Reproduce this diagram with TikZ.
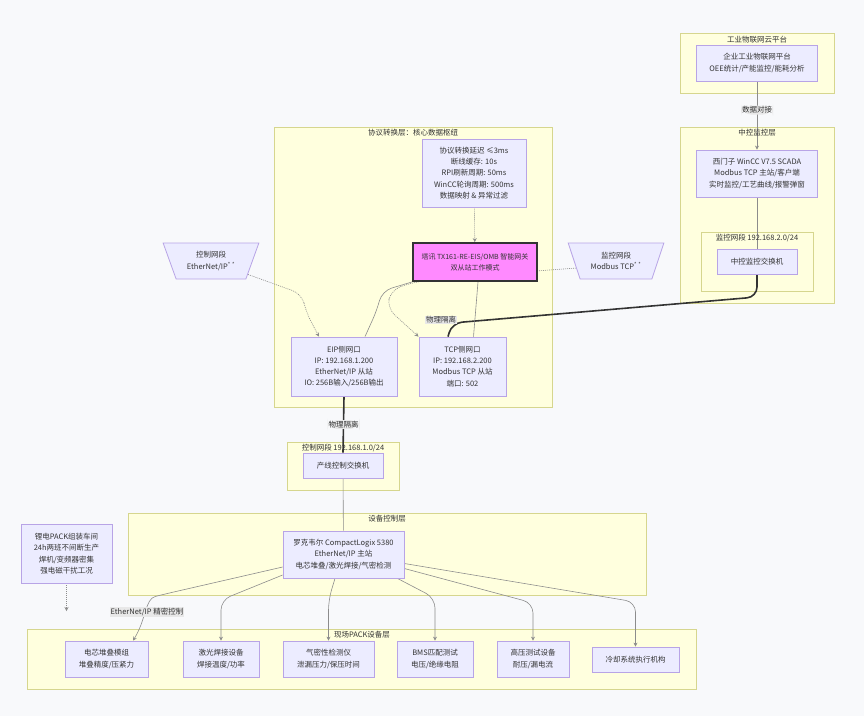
\documentclass[tikz,border=0pt]{standalone}
\usepackage{fontspec}
\setmainfont{Noto Sans CJK SC}
\usetikzlibrary{arrows.meta, positioning, shapes.geometric}
\definecolor{pagebg}{HTML}{F8F9FB}
\definecolor{grpfill}{HTML}{FFFFDE}
\definecolor{grpline}{HTML}{D6D68E}
\definecolor{boxfill}{HTML}{ECECFF}
\definecolor{boxline}{HTML}{B8A4E6}
\definecolor{gwfill}{HTML}{FF8AFF}
\definecolor{inkgray}{HTML}{333333}
\definecolor{linkgray}{HTML}{8C8C8C}
\definecolor{lblfill}{HTML}{E8E8E8}

\pgfdeclarelayer{groups}
\pgfdeclarelayer{links}
\pgfsetlayers{groups,links,main}

\begin{document}
\begin{tikzpicture}[
  x=1pt, y=-1pt,
  font=\fontsize{7.5}{11.3}\selectfont, text=inkgray,
  devbox/.style={rectangle, draw=boxline, fill=boxfill, line width=0.8pt, align=center, inner sep=2pt},
  gwbox/.style={rectangle, draw=inkgray, fill=gwfill, line width=1.8pt, align=center, inner sep=1pt, font=\fontsize{7}{11.3}\selectfont},
  segbox/.style={trapezium, trapezium stretches=true, trapezium left angle=66, trapezium right angle=66, shape border rotate=180, draw=boxline, fill=boxfill, line width=0.8pt, align=center, inner sep=1pt, minimum width=96pt, minimum height=36pt},
  grpbox/.style={draw=grpline, fill=grpfill, line width=0.8pt},
  grptitle/.style={inner sep=1pt},
  link/.style={draw=linkgray, line width=0.6pt, rounded corners=10pt},
  arr/.style={link, -{Stealth[length=4pt, width=4pt]}},
  dotlink/.style={link, dash pattern=on 1pt off 1pt, -{Stealth[length=4pt, width=4pt]}},
  thicklink/.style={draw=inkgray, line width=1.6pt, rounded corners=10pt},
  elabel/.style={fill=lblfill, inner sep=1pt}
]
\useasboundingbox (0,0) rectangle (864,716);

% groups
\begin{pgfonlayer}{groups}
\fill[pagebg] (0,0) rectangle (864,716);
\draw[grpbox] (680,33) rectangle (834,93);
\draw[grpbox] (680,127) rectangle (834,303);
\draw[grpbox] (701,232) rectangle (813,291);
\draw[grpbox] (274,127) rectangle (552,407);
\draw[grpbox] (287,442) rectangle (399,490);
\draw[grpbox] (128,513) rectangle (646,595);
\draw[grpbox] (27,629) rectangle (696,689);
\end{pgfonlayer}

\node[grptitle] (t-cloud) at (757,40) {工业物联网云平台};
\node[grptitle] (t-center) at (757,133) {中控监控层};
\node[grptitle] (t-monnet) at (757,237.5) {监控网段 192.168.2.0/24};
\node[grptitle] (t-proto) at (413,133) {协议转换层：核心数据枢纽};
\node[grptitle] (t-linenet) at (343,447.5) {控制网段 192.168.1.0/24};
\node[grptitle] (t-devctl) at (387,519) {设备控制层};
\node[grptitle] (t-field) at (362,635) {现场PACK设备层};

% nodes
\node[devbox, minimum width=121pt, minimum height=36pt] (iiot) at (757,63) {企业工业物联网平台\\OEE统计/产能监控/能耗分析};
\node[devbox, minimum width=121pt, minimum height=47pt] (wincc) at (757,173.5) {西门子 WinCC V7.5 SCADA\\Modbus TCP 主站/客户端\\实时监控/工艺曲线/报警弹窗};
\node[devbox, minimum width=80pt, minimum height=25pt] (monsw) at (757,261.5) {中控监控交换机};
\node[devbox, minimum width=104pt, minimum height=68pt] (param) at (474,173) {协议转换延迟 ≤3ms\\断线缓存: 10s\\RPI刷新周期: 50ms\\WinCC轮询周期: 500ms\\数据映射 \& 异常过滤};
\node[gwbox, minimum width=124pt, minimum height=38pt] (gw) at (475,262) {塔讯 TX161-RE-EIS/OMB 智能网关\\双从站工作模式};
\node[devbox, minimum width=106pt, minimum height=59pt] (eip) at (344,366.5) {EIP侧网口\\IP: 192.168.1.200\\EtherNet/IP 从站\\IO: 256B输入/256B输出};
\node[devbox, minimum width=87pt, minimum height=59pt] (tcp) at (462.5,366.5) {TCP侧网口\\IP: 192.168.2.200\\Modbus TCP 从站\\端口: 502};
\node[segbox] (ctrlseg) at (211,261) {控制网段\\EtherNet/IP\textsuperscript{*}\,\textsuperscript{*}};
\node[segbox] (monseg) at (616,261) {监控网段\\Modbus TCP\textsuperscript{*}\,\textsuperscript{*}};
\node[devbox, minimum width=80pt, minimum height=25pt] (linesw) at (343,465.5) {产线控制交换机};
\node[devbox, minimum width=121pt, minimum height=47pt] (plc) at (343.5,554.5) {罗克韦尔 CompactLogix 5380\\EtherNet/IP 主站\\电芯堆叠/激光焊接/气密检测};
\node[devbox, minimum width=91pt, minimum height=59pt] (site) at (66.5,553.5) {锂电PACK组装车间\\24h两班不间断生产\\焊机/变频器密集\\强电磁干扰工况};
\coordinate (fieldtop) at (66.5,611);

\node[devbox, minimum width=83pt, minimum height=36pt] (stack) at (106.5,659) {电芯堆叠模组\\堆叠精度/压紧力};
\node[devbox, minimum width=76pt, minimum height=36pt] (weld) at (221,659) {激光焊接设备\\焊接温度/功率};
\node[devbox, minimum width=91pt, minimum height=36pt] (leak) at (328.5,659) {气密性检测仪\\泄漏压力/保压时间};
\node[devbox, minimum width=76pt, minimum height=36pt] (bms) at (435,659) {BMS匹配测试\\电压/绝缘电阻};
\node[devbox, minimum width=72pt, minimum height=36pt] (hipot) at (533,659) {高压测试设备\\耐压/漏电流};
\node[devbox, minimum width=87pt, minimum height=25pt] (cool) at (635.5,659.5) {冷却系统执行机构};

% links
\begin{pgfonlayer}{links}
\draw[arr] (iiot) -- (wincc) node[elabel, pos=0.42] (l-data) {数据对接};
\draw[link] (wincc) -- (monsw);
\draw[dotlink] (param) -- (gw);
\draw[thicklink] (monsw.south) -- (757,297) -- (452,323) -- ([xshift=-14.5pt]tcp.north);
\draw[thicklink] (eip.south) -- (linesw.north) node[elabel, midway] (l-iso1) {物理隔离};
\draw[link] (linesw) -- (plc);
\draw[link] (gw.south west) -- (382,291) -- (377,310) -- ([xshift=21pt]eip.north);
\draw[link] ([xshift=3pt]gw.south) -- ([xshift=11pt]tcp.north);
\draw[dotlink] (ctrlseg.-20) -- (302,294) -- (306,312) -- ([xshift=-25pt]eip.north);
\draw[dotlink] (monseg.190) -- (536,271) -- (414,282) -- (391,290) -- (387,308) -- ([xshift=-44pt]tcp.north);
\draw[dotlink] (site.south) -- (fieldtop);
\draw[arr] ([yshift=-12.5pt]plc.west) -- (165,594) .. controls (145,599) and (146,620) .. ([xshift=26.5pt]stack.north);
\draw[arr] ([yshift=-20.5pt]plc.west) -- (221,600) -- (weld.north);
\draw[arr] ([xshift=-8.5pt]plc.south) -- (328.5,600) -- (leak.north);
\draw[arr] ([xshift=-7pt]plc.south east) -- (435,598) -- (bms.north);
\draw[arr] ([yshift=-14pt]plc.east) -- (533,603) -- (hipot.north);
\draw[arr] ([yshift=-9pt]plc.east) -- (635.5,602) -- (cool.north);
\end{pgfonlayer}
\node[elabel] (l-iso2) at (441,320) {物理隔离};
\node[elabel] (l-eip) at (147,612) {EtherNet/IP 精密控制};

\end{tikzpicture}
\end{document}
